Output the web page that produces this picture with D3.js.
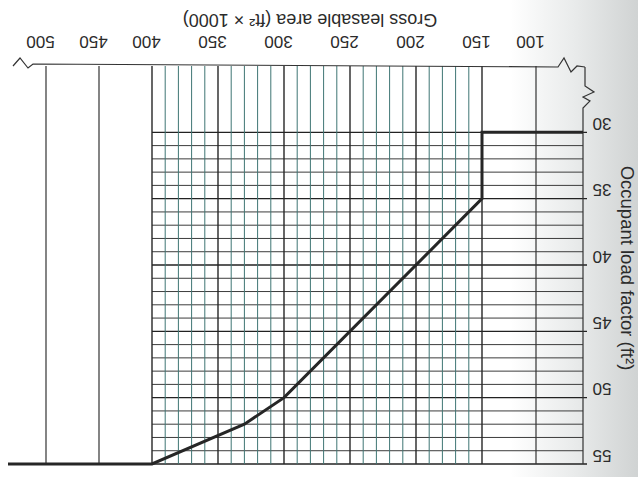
<!DOCTYPE html>
<html>
<head>
<meta charset="utf-8">
<script src="https://cdn.jsdelivr.net/npm/d3@7"></script>
<style>
html,body{margin:0;padding:0;background:#fff;}
svg{display:block;}
text{font-family:Arial, "Liberation Sans", Helvetica, sans-serif;fill:#2b2b2b;}
</style>
</head>
<body>
<svg id="chart" width="638" height="477"></svg>
<script>
// ---- data (chart is shown rotated 180°, as in the reference photo) ----
const areaTicks = [100, 150, 200, 250, 300, 350, 400, 450, 500];       // ft² × 1000
const factorTicks = [30, 35, 40, 45, 50, 55];                           // ft²
const fineAreaLines = d3.range(150, 401, 10);                            // fine grid region
const coarseAreaLines = [100, 450, 500];
const factorLines = d3.range(30, 56, 1);
// occupant load factor curve (area ×1000 ft², factor ft²); ends run to the axis breaks
const curveArea =   [536, 400, 330, 300, 150, 150, 56];
const curveFactor = [55,  55,  52,  50,  35,  30,  30];

const xTitle = "Gross leasable area (ft\u00B2 \u00D7 1000)";
const yTitle = "Occupant load factor (ft\u00B2)";

const FONT = "Arial, 'Liberation Sans', Helvetica, sans-serif";

// ---- scales (piecewise: coarse 100–150, fine 150–400, coarse 400–500) ----
const x = d3.scaleLinear()
  .domain([56, 100, 150, 400, 500, 536])
  .range([583, 536, 482, 152, 46, 8]);
const y = d3.scaleLinear().domain([25, 55]).range([66, 464]);

const svg = d3.select("#chart");

// background: slight paper shading on the right
const defs = svg.append("defs");
const grad = defs.append("linearGradient").attr("id", "bg").attr("x1", "0").attr("x2", "1").attr("y1", "0").attr("y2", "0");
grad.append("stop").attr("offset", "0.8").attr("stop-color", "#ffffff");
grad.append("stop").attr("offset", "0.9").attr("stop-color", "#e9ebeb");
grad.append("stop").attr("offset", "1").attr("stop-color", "#d0d3d3");
svg.append("rect").attr("width", 638).attr("height", 477).attr("fill", "url(#bg)");

const g = svg.append("g");

// horizontal grid lines (occupant load factor)
g.selectAll("line.h").data(factorLines).join("line")
  .attr("class", "h")
  .attr("x1", x(400)).attr("x2", d => d % 5 === 0 ? x(56) + 4 : x(56))
  .attr("y1", d => y(d)).attr("y2", d => y(d))
  .attr("stroke", d => d % 5 === 0 ? "#222" : "#3c3c3c")
  .attr("stroke-width", d => d % 5 === 0 ? 1.3 : 1);

// fine vertical lines
g.selectAll("line.vf").data(fineAreaLines).join("line")
  .attr("class", "vf")
  .attr("x1", d => x(d)).attr("x2", d => x(d))
  .attr("y1", y(25)).attr("y2", y(55))
  .attr("stroke", d => d % 50 === 0 ? "#262626" : "#3f7674")
  .attr("stroke-width", d => d % 50 === 0 ? 1.4 : 1);

// coarse vertical lines
g.selectAll("line.vc").data(coarseAreaLines).join("line")
  .attr("class", "vc")
  .attr("x1", d => x(d)).attr("x2", d => x(d))
  .attr("y1", y(25)).attr("y2", y(55))
  .attr("stroke", "#333").attr("stroke-width", 1.2);

// axis line with break (top edge in rotated view)
const yT = y(25), xL = x(536), xR = x(56);
g.append("path")
  .attr("d", `M${xL + 5},${yT} L${xL + 12},${yT - 8} L${xL + 20},${yT + 2} L${xL + 25},${yT - 2} L${xR - 25},${yT + 1} L${xR - 19},${yT - 8} L${xR - 12},${yT + 6} L${xR - 6},${yT} L${xR + 2},${yT + 1}`)
  .attr("fill", "none").attr("stroke", "#333").attr("stroke-width", 1.2);
// side axis line with break
g.append("path")
  .attr("d", `M${xR + 2},${yT + 1} L${xR + 2},${yT + 20} L${xR + 11},${yT + 26} L${xR},${yT + 31} L${xR + 7},${yT + 35} L${xR},${yT + 42} L${xR},${y(55)}`)
  .attr("fill", "none").attr("stroke", "#333").attr("stroke-width", 1.2);

// the curve
const pts = curveArea.map((a, i) => [a, curveFactor[i]]);
g.append("path")
  .attr("d", d3.line().x(d => x(d[0])).y(d => y(d[1]))(pts))
  .attr("fill", "none").attr("stroke", "#262626").attr("stroke-width", 3)
  .attr("stroke-linejoin", "miter");

// x tick labels (upside down)
const xAxis = d3.axisTop(x).tickValues(areaTicks).tickSize(0).tickFormat(d3.format("d"));
const gx = svg.append("g").attr("transform", "translate(-6,42)").call(xAxis)
  .attr("font-family", FONT).attr("font-size", 17);
gx.select(".domain").remove();
gx.selectAll("text")
  .attr("y", 0).attr("dy", "0.35em")
  .attr("transform", "rotate(180)")
  .attr("fill", "#2b2b2b");

// y tick labels (upside down)
const yAxis = d3.axisRight(y).tickValues(factorTicks).tickSize(0).tickFormat(d3.format("d"));
const gy = svg.append("g").attr("transform", "translate(602,-9)").call(yAxis)
  .attr("font-family", FONT).attr("font-size", 17);
gy.select(".domain").remove();
gy.selectAll("text")
  .attr("x", 0).attr("dy", "0.35em")
  .attr("text-anchor", "middle")
  .attr("transform", "rotate(180)")
  .attr("fill", "#2b2b2b");

// titles
svg.append("text")
  .attr("transform", "translate(310,20) rotate(180)")
  .attr("text-anchor", "middle").attr("dy", "0.35em")
  .attr("font-family", FONT).attr("font-size", 18)
  .text(xTitle);
svg.append("text")
  .attr("transform", "translate(627,268) rotate(90)")
  .attr("text-anchor", "middle").attr("dy", "0.35em")
  .attr("font-family", FONT).attr("font-size", 18.5)
  .text(yTitle);
</script>
</body>
</html>
